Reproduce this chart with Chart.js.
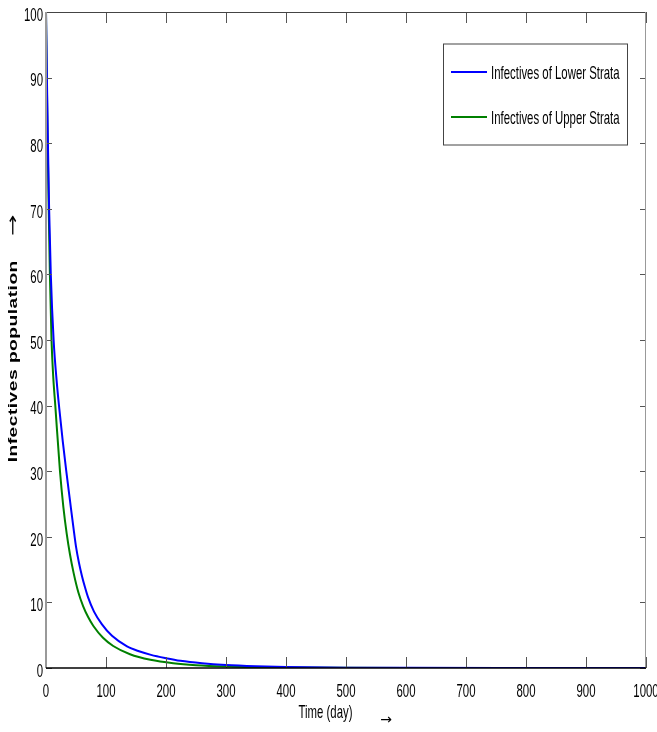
<!DOCTYPE html>
<html>
<head>
<meta charset="utf-8">
<script src="https://cdn.jsdelivr.net/npm/chart.js@4"></script>
<style>
  html, body { margin: 0; padding: 0; background: #fff; }
  #wrap { width: 657px; height: 732px; }
</style>
</head>
<body>
<div id="wrap"><canvas id="infectivesChart"></canvas></div>
<script>
// values
const lowerDays = [0, 1.5, 3.2, 5.2, 8, 12.7, 18, 22.2, 28, 33.8, 40, 46, 50, 55, 60, 65, 70, 80, 93, 110, 135, 155, 175, 200, 224, 260, 300, 350, 400, 500, 600, 800, 1000];
const lowerValues = [100, 90, 80, 70, 60, 50, 43.5, 39.5, 34.5, 30, 25.5, 21.2, 18.5, 16, 14, 12.3, 10.8, 8.6, 6.7, 4.9, 3.3, 2.55, 2.0, 1.5, 1.1, 0.72, 0.45, 0.26, 0.15, 0.05, 0.02, 0.004, 0];
const upperDays = [0, 1.3, 2.8, 4.5, 6.5, 9.2, 12, 15.5, 23.3, 29, 34.5, 40, 46, 54, 62, 70, 79, 95, 112, 140, 174, 212, 250, 300, 350, 400, 500, 600, 1000];
const upperValues = [100, 90, 80, 70, 60, 50, 44.5, 40, 30, 24.5, 20.5, 17.3, 14.5, 11.5, 9.4, 7.8, 6.4, 4.6, 3.35, 2.1, 1.25, 0.72, 0.42, 0.22, 0.12, 0.065, 0.02, 0.007, 0];
const seriesLabels = ["Infectives of Lower Strata", "Infectives of Upper Strata"];
const seriesColors = ["#0000ff", "#008000"];
const xTickStep = 100;
const yTickStep = 10;
const xTitle = "Time (day)";
const yTitle = "Infectives population";

const textFont = "19px 'Liberation Sans', Arial, sans-serif";
const squeeze = 0.6;

function toPoints(xs, ys) {
  return xs.map((x, i) => ({ x: x, y: ys[i] }));
}

// condensed text, like the narrow Helvetica of the original figure
function narrowText(ctx, text, x, y, align) {
  ctx.save();
  ctx.translate(x, y);
  ctx.scale(squeeze, 1);
  ctx.font = textFont;
  ctx.textAlign = align;
  ctx.textBaseline = "alphabetic";
  ctx.fillStyle = "#000";
  ctx.fillText(text, 0, 0);
  ctx.restore();
}

// frame, inward ticks, tick labels, legend box and titles (MATLAB look)
const matlabAxes = {
  id: "matlabAxes",
  afterDraw(chart) {
    const ctx = chart.ctx;
    const area = chart.chartArea;
    const xs = chart.scales.x;
    const ys = chart.scales.y;
    ctx.save();

    // inward ticks
    ctx.strokeStyle = "#555";
    ctx.lineWidth = 1;
    xs.ticks.forEach((t) => {
      const px = Math.round(xs.getPixelForValue(t.value)) + 0.5;
      ctx.beginPath();
      ctx.moveTo(px, area.bottom);
      ctx.lineTo(px, area.bottom - 11);
      ctx.moveTo(px, area.top);
      ctx.lineTo(px, area.top + 11);
      ctx.stroke();
    });
    ys.ticks.forEach((t) => {
      const py = Math.round(ys.getPixelForValue(t.value)) + 0.5;
      ctx.beginPath();
      ctx.moveTo(area.left, py);
      ctx.lineTo(area.left + 6, py);
      ctx.moveTo(area.right, py);
      ctx.lineTo(area.right - 6, py);
      ctx.stroke();
    });

    // box
    ctx.lineWidth = 1;
    ctx.strokeStyle = "#444";
    ctx.beginPath();
    ctx.moveTo(area.left, area.top + 0.5);
    ctx.lineTo(area.right, area.top + 0.5);
    ctx.stroke();
    ctx.strokeStyle = "#999";
    ctx.beginPath();
    ctx.moveTo(area.right - 0.5, area.top);
    ctx.lineTo(area.right - 0.5, area.bottom);
    ctx.stroke();
    ctx.lineWidth = 2;
    ctx.beginPath();
    ctx.moveTo(area.left, area.top);
    ctx.lineTo(area.left, area.bottom);
    ctx.stroke();
    ctx.lineWidth = 1.5;
    ctx.strokeStyle = "#000";
    ctx.beginPath();
    ctx.moveTo(area.left, area.bottom);
    ctx.lineTo(area.right, area.bottom);
    ctx.stroke();

    // tick labels
    xs.ticks.forEach((t) => {
      narrowText(ctx, String(t.value), xs.getPixelForValue(t.value), area.bottom + 28.5, "center");
    });
    ys.ticks.forEach((t) => {
      narrowText(ctx, String(t.value), area.left - 3, ys.getPixelForValue(t.value) + 8.8, "right");
    });

    // x title with arrow
    const cx = (area.left + area.right) / 2;
    narrowText(ctx, xTitle, cx - 20.5, area.bottom + 50, "center");
    ctx.fillStyle = "#000";
    ctx.font = "14px 'DejaVu Sans', sans-serif";
    ctx.textAlign = "center";
    ctx.textBaseline = "middle";
    ctx.fillText("\u2192", cx + 40, area.bottom + 52);

    // legend
    const bx = area.right - 203;
    const by = area.top + 31.5;
    const bw = 184;
    const bh = 101;
    ctx.fillStyle = "#fff";
    ctx.fillRect(bx, by, bw, bh);
    ctx.lineWidth = 1;
    ctx.strokeStyle = "#444";
    ctx.strokeRect(bx + 0.5, by + 0.5, bw, bh);
    chart.data.datasets.forEach((ds, i) => {
      const ly = by + 28.5 + i * 45;
      ctx.strokeStyle = ds.borderColor;
      ctx.lineWidth = 2;
      ctx.beginPath();
      ctx.moveTo(bx + 8, ly);
      ctx.lineTo(bx + 44, ly);
      ctx.stroke();
      narrowText(ctx, ds.label, bx + 48, ly + 7, "left");
    });

    // y title, read bottom to top
    const cy = (area.top + area.bottom) / 2;
    ctx.translate(13, cy);
    ctx.rotate(-Math.PI / 2);
    ctx.scale(1.6, 1);
    ctx.fillStyle = "#000";
    ctx.textAlign = "center";
    ctx.textBaseline = "alphabetic";
    ctx.font = "bold 12px 'Liberation Sans', Arial, sans-serif";
    ctx.letterSpacing = "0.3px";
    ctx.fillText(yTitle, -21.25 / 1.6, 4);
    ctx.letterSpacing = "0px";
    ctx.font = "16px 'DejaVu Sans', sans-serif";
    ctx.textBaseline = "middle";
    ctx.fillText("\u2192", 114.75 / 1.6, 0.5);
    ctx.restore();
  },
};

const ctx = document.getElementById("infectivesChart").getContext("2d");
const infectivesChart = new Chart(ctx, {
  type: "line",
  data: {
    datasets: [
      {
        label: seriesLabels[0],
        data: toPoints(lowerDays, lowerValues),
        borderColor: seriesColors[0],
        borderWidth: 2,
        pointRadius: 0,
        fill: false,
        cubicInterpolationMode: "monotone",
      },
      {
        label: seriesLabels[1],
        data: toPoints(upperDays, upperValues),
        borderColor: seriesColors[1],
        borderWidth: 2,
        pointRadius: 0,
        fill: false,
        cubicInterpolationMode: "monotone",
      },
    ],
  },
  options: {
    responsive: true,
    maintainAspectRatio: false,
    animation: false,
    layout: { padding: { top: 12, right: 11, left: 0, bottom: 0 } },
    plugins: {
      legend: { display: false },
      tooltip: { enabled: false },
    },
    scales: {
      x: {
        type: "linear",
        min: 0,
        max: 1000,
        grid: { display: false, drawTicks: false },
        border: { display: false },
        ticks: { stepSize: xTickStep, display: false },
        afterFit(scale) {
          scale.height = 64;
        },
      },
      y: {
        min: 0,
        max: 100,
        grid: { display: false, drawTicks: false },
        border: { display: false },
        ticks: { stepSize: yTickStep, display: false },
        afterFit(scale) {
          scale.width = 46;
        },
      },
    },
  },
  plugins: [matlabAxes],
});
</script>
</body>
</html>
